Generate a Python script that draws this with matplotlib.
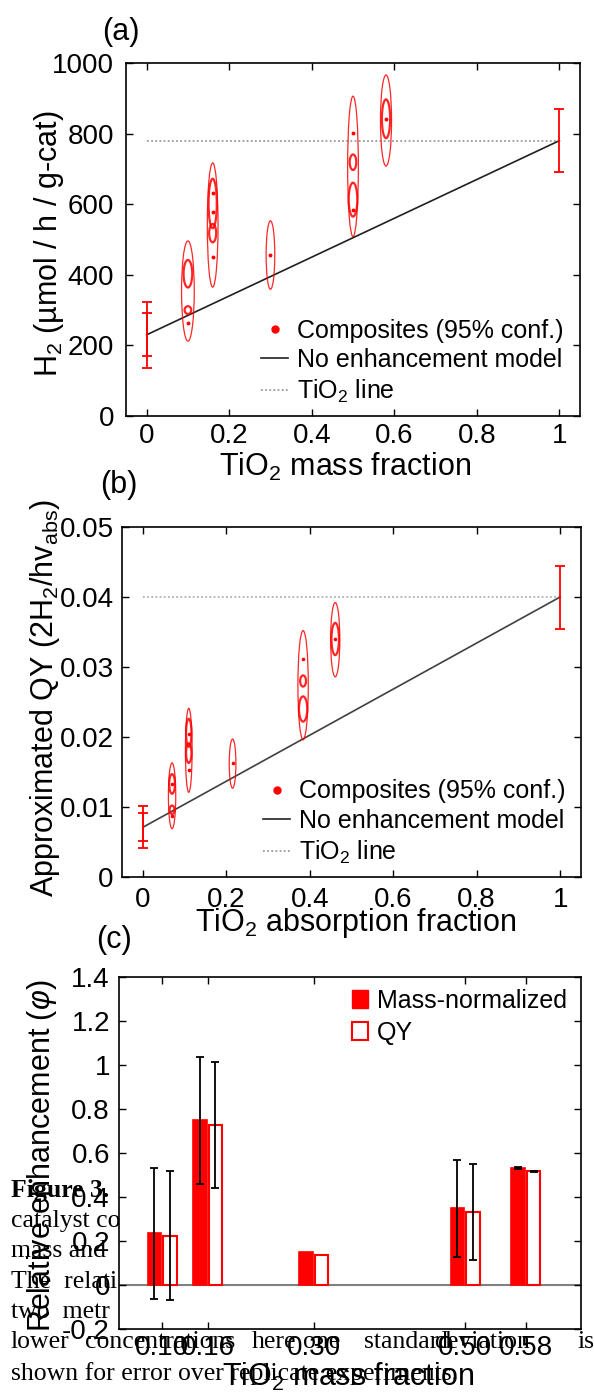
import numpy as np
import matplotlib.pyplot as plt
from matplotlib.patches import Ellipse, Patch
from matplotlib.lines import Line2D
from matplotlib.ticker import FormatStrFormatter

plt.rcParams['font.family'] = ['Liberation Sans', 'DejaVu Sans']
plt.rcParams['mathtext.fontset'] = 'custom'
plt.rcParams['mathtext.rm'] = 'Liberation Sans'
plt.rcParams['mathtext.it'] = 'Liberation Sans:italic'
plt.rcParams['mathtext.bf'] = 'Liberation Sans:bold'

# ---------------- data ----------------
# (a) H2 rate vs TiO2 mass fraction
pure_x = [0, 1]
h2_pure = [230, 780]
h2_pure_err = [93, 90]
h2_pure_err_inner = [61]          # second replicate spread, x = 0 only
h2_tio2 = 780

ell_a_x = [0.10, 0.10, 0.10, 0.16, 0.16, 0.16, 0.30, 0.50, 0.50, 0.50, 0.58, 0.58]
ell_a_y = [354, 403, 300, 541, 602, 518, 456, 707, 719, 613, 837, 842]
ell_a_h = [142, 39, 11, 176, 70, 26, 97, 199, 22, 48, 129, 55]
ell_a_w = [0.0154, 0.0105, 0.008, 0.013, 0.010, 0.0085, 0.0105, 0.013, 0.008, 0.0105, 0.0134, 0.010]
dot_a_x = [0.10, 0.16, 0.16, 0.16, 0.30, 0.50, 0.50, 0.58]
dot_a_y = [263, 631, 579, 451, 455, 801, 584, 841]

# (b) approximated QY vs TiO2 absorption fraction
qy_pure = [0.0071, 0.040]
qy_pure_err = [0.0030, 0.0045]
qy_pure_err_inner = [0.0020]
qy_tio2 = 0.040

ell_b_x = [0.07, 0.07, 0.07, 0.11, 0.11, 0.11, 0.215, 0.384, 0.384, 0.384, 0.461, 0.461]
ell_b_y = [0.0116, 0.0133, 0.0096, 0.0181, 0.0206, 0.0177, 0.0162, 0.0274, 0.0280, 0.0240, 0.0339, 0.0340]
ell_b_h = [0.0047, 0.0014, 0.0006, 0.0060, 0.0020, 0.0014, 0.0035, 0.0078, 0.0008, 0.0018, 0.0053, 0.0023]
ell_b_w = [0.0088, 0.007, 0.006, 0.008, 0.0065, 0.0065, 0.008, 0.0124, 0.007, 0.010, 0.011, 0.009]
dot_b_x = [0.07, 0.07, 0.11, 0.11, 0.215, 0.384, 0.461]
dot_b_y = [0.0087, 0.0133, 0.0205, 0.0153, 0.0163, 0.0312, 0.0340]

# (c) relative enhancement
frac_c = [0.10, 0.16, 0.30, 0.50, 0.58]
frac_labels = ['0.10', '0.16', '0.30', '0.50', '0.58']
mass_enh = [0.235, 0.748, 0.152, 0.348, 0.533]
mass_err = [0.298, 0.289, np.nan, 0.222, 0.005]
qy_enh = [0.224, 0.728, 0.137, 0.333, 0.517]
qy_err = [0.293, 0.286, np.nan, 0.218, 0.003]

# ---------------- figure ----------------
W, H = 594, 1393
fig = plt.figure(figsize=(W / 100, H / 100), dpi=100)


def box(l, t, r, b):
    return [l / W, 1 - b / H, (r - l) / W, (b - t) / H]


def ftxt(x, y, s, **kw):
    return fig.text(x / W, 1 - y / H, s, **kw)


def matlab_axes(ax, xpad, ypad):
    ax.tick_params(direction='in', top=True, right=True, length=5, width=1, labelsize=20)
    ax.tick_params(axis='x', pad=xpad)
    ax.tick_params(axis='y', pad=ypad)
    for sp in ax.spines.values():
        sp.set_linewidth(1.2)
    ax.xaxis.set_major_formatter(FormatStrFormatter('%g'))
    ax.yaxis.set_major_formatter(FormatStrFormatter('%g'))


def draw_ellipses(ax, xs, ys, ws, hs):
    for x, y, w, h in zip(xs, ys, ws, hs):
        biggest = max(hh for xx, hh in zip(xs, hs) if xx == x)
        lw = 0.9 if h == biggest else 1.6
        ax.add_patch(Ellipse((x, y), 2 * w, 2 * h, fill=False, ec='red', lw=lw, alpha=0.85, zorder=3))


# panel (a)
ax1 = fig.add_axes(box(126, 63, 580, 416))
ax1.plot([0, 1], [h2_tio2, h2_tio2], ls=(0, (1, 1.3)), color='#9a9a9a', lw=1.3, zorder=1)
ax1.plot(pure_x, h2_pure, color='#202020', lw=1.2, zorder=2)
draw_ellipses(ax1, ell_a_x, ell_a_y, ell_a_w, ell_a_h)
ax1.plot(dot_a_x, dot_a_y, 'o', color='red', ms=1.8, zorder=4)
ax1.errorbar(pure_x, h2_pure, yerr=h2_pure_err, fmt='none', ecolor='red', elinewidth=1.3,
             capsize=3.5, capthick=1.3, zorder=4)
ax1.errorbar(pure_x[:1], h2_pure[:1], yerr=h2_pure_err_inner, fmt='none', ecolor='red',
             elinewidth=1.3, capsize=3.5, capthick=1.3, zorder=4)
ax1.set_xlim(-0.05, 1.05)
ax1.set_ylim(0, 1000)
ax1.set_xticks(np.arange(0, 1.01, 0.2))
ax1.set_yticks(np.arange(0, 1001, 200))
matlab_axes(ax1, 5, 8.5)

leg_handles = [Line2D([], [], ls='none', marker='o', color='red', ms=5),
               Line2D([], [], color='#202020', lw=1.2),
               Line2D([], [], ls=(0, (1, 1.3)), color='#9a9a9a', lw=1.3)]
leg_labels = ['Composites (95% conf.)', 'No enhancement model', 'TiO$_2$ line']
ax1.legend(leg_handles, leg_labels, loc='upper left', bbox_to_anchor=(0.297, 0.276),
           frameon=False, fontsize=18, borderpad=0, borderaxespad=0, handlelength=1.1,
           handletextpad=0.35, labelspacing=0.22)

# panel (b)
ax2 = fig.add_axes(box(122, 527, 581, 877))
ax2.plot([0, 1], [qy_tio2, qy_tio2], ls=(0, (1, 1.3)), color='#b0b0b0', lw=1.3, zorder=1)
ax2.plot(pure_x, qy_pure, color='#404040', lw=1.2, zorder=2)
draw_ellipses(ax2, ell_b_x, ell_b_y, ell_b_w, ell_b_h)
ax2.plot(dot_b_x, dot_b_y, 'o', color='red', ms=1.6, zorder=4)
ax2.errorbar(pure_x, qy_pure, yerr=qy_pure_err, fmt='none', ecolor='red', elinewidth=1.3,
             capsize=3.5, capthick=1.3, zorder=4)
ax2.errorbar(pure_x[:1], qy_pure[:1], yerr=qy_pure_err_inner, fmt='none', ecolor='red',
             elinewidth=1.3, capsize=3.5, capthick=1.3, zorder=4)
ax2.set_xlim(-0.05, 1.05)
ax2.set_ylim(0, 0.05)
ax2.set_xticks(np.arange(0, 1.01, 0.2))
ax2.set_yticks(np.arange(0, 0.051, 0.01))
matlab_axes(ax2, 7, 6)
ax2.legend(leg_handles, leg_labels, loc='upper left', bbox_to_anchor=(0.307, 0.279),
           frameon=False, fontsize=18, borderpad=0, borderaxespad=0, handlelength=1.1,
           handletextpad=0.35, labelspacing=0.22)

# panel (c)
ax3 = fig.add_axes(box(119, 977, 581, 1329))
xc = np.array(frac_c)
off, bw = 0.0103, 0.018
ax3.axhline(0, color='#808080', lw=1.5, zorder=1)
ax3.bar(xc - off, mass_enh, bw, color='red', ec='red', lw=1.2, zorder=2)
ax3.bar(xc + off, qy_enh, bw, color='white', ec='red', lw=1.5, zorder=2)
ax3.errorbar(xc - off, mass_enh, yerr=mass_err, fmt='none', ecolor='black', elinewidth=1.3,
             capsize=3, capthick=1.3, zorder=3)
ax3.errorbar(xc + off, qy_enh, yerr=qy_err, fmt='none', ecolor='black', elinewidth=1.3,
             capsize=3, capthick=1.3, zorder=3)
ax3.set_xlim(0.043, 0.653)
ax3.set_ylim(-0.2, 1.4)
ax3.set_xticks(frac_c)
ax3.set_yticks(np.arange(-0.2, 1.41, 0.2))
matlab_axes(ax3, 4, 6.5)
ax3.set_xticklabels(frac_labels)
ax3.legend([Patch(fc='red', ec='red'), Patch(fc='white', ec='red', lw=1.5)],
           ['Mass-normalized', 'QY'], loc='upper left', bbox_to_anchor=(0.504, 0.966),
           frameon=False, fontsize=18, borderpad=0, borderaxespad=0, handlelength=0.65,
           handleheight=0.7, handletextpad=0.35, labelspacing=0.32)

# axis labels and panel letters
lab = dict(fontsize=22, ha='center', va='center', zorder=5)
ftxt(121, 32, '(a)', **lab)
ftxt(49, 244, 'H$_2$ (\u00b5mol / h / g-cat)', rotation=90, **lab)
ftxt(345, 467, 'TiO$_2$ mass fraction', **lab)
ftxt(119, 485, '(b)', **lab)
ftxt(45, 698, 'Approximated QY (2H$_2$/hv$_{\\rm abs}$)', rotation=90, **lab)
ftxt(356, 923, 'TiO$_2$ absorption fraction', **lab)
ftxt(114, 940, '(c)', **lab)
ftxt(42, 1156, 'Relative enhancement ($\\varphi$)', rotation=90, **lab)
ftxt(348, 1377, 'TiO$_2$ mass fraction', **lab)

# caption text of the page, lying underneath panel (c)
cap = dict(family=['Liberation Serif', 'DejaVu Serif'], fontsize=18.5, va='baseline', zorder=-1)
ftxt(11, 1197, 'Figure 3.', fontweight='bold', **cap)
ftxt(11, 1227, 'catalyst co', **cap)
ftxt(11, 1257, 'mass and', **cap)
ftxt(11, 1288, 'The  relati', **cap)
ftxt(11, 1318, 'two  metr', **cap)
for word, x in [('lower', 11), ('concentrations', 85), ('here', 252), ('one', 303),
                ('standard', 364), ('deviation', 434), ('is', 578)]:
    ftxt(x, 1348, word, **cap)
ftxt(11, 1380, 'shown for error over replicate experiments.', **cap)

fig.savefig('out.png', dpi=100)
